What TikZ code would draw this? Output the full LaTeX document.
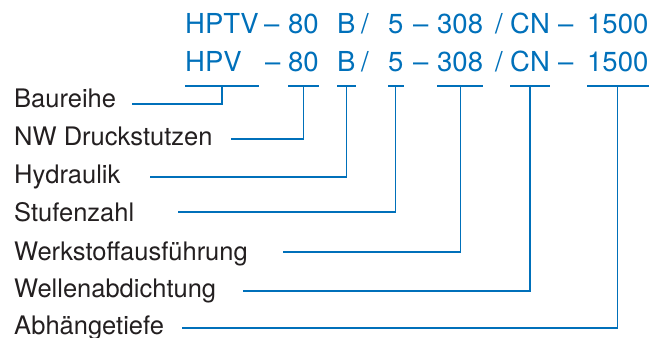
\documentclass[tikz,border=0pt]{standalone}
\usepackage{fontspec}
\setmainfont{TeX Gyre Heros}
\usetikzlibrary{positioning}
\definecolor{codeblue}{RGB}{0,112,186}
\definecolor{termgray}{RGB}{35,31,32}

\begin{document}
\begin{tikzpicture}[
  x=1bp, y=-1bp,
  code/.style={anchor=base west, inner sep=0pt, text=codeblue,
    font=\fontsize{27.5bp}{32bp}\selectfont},
  term/.style={anchor=base west, inner sep=0pt, text=termgray,
    font=\fontsize{25.5bp}{30bp}\selectfont},
  lead/.style={draw=codeblue, line width=1.2bp}
]
\useasboundingbox (0,0) rectangle (662,337);

% Type code, upper line
\node[code] (hptv) at (185,33) {HPTV};
\node[code] (dasha) at (264,33) {--};
\node[code] (nw) at (288,33) {80};
\node[code] (hyd) at (337,33) {B};
\node[code] (slasha) at (361,33) {/};
\node[code] (stg) at (388,33) {5};
\node[code] (dashb) at (413,33) {--};
\node[code] (mat) at (437,33) {308};
\node[code] (slashb) at (495,33) {/};
\node[code] (seal) at (510,33) {CN};
\node[code] (dashc) at (558,33) {--};
\node[code] (depth) at (587,33) {1500};

% Type code, lower line
\node[code] (hpv) at (185,71) {HPV};
\node[code] (dashd) at (265,71) {--};
\node[code] (nwb) at (288,71) {80};
\node[code] (hydb) at (337,71) {B};
\node[code] (slashc) at (361,71) {/};
\node[code] (stgb) at (388,71) {5};
\node[code] (dashe) at (413,71) {--};
\node[code] (matb) at (437,71) {308};
\node[code] (slashd) at (495,71) {/};
\node[code] (sealb) at (510,71) {CN};
\node[code] (dashf) at (558,71) {--};
\node[code] (depthb) at (587,71) {1500};

% Bars under the code groups
\coordinate (bar) at (0,86);
\draw[lead] (hptv.west |- bar) -- (hptv.east |- bar);
\draw[lead] (nw.west |- bar) -- (nw.east |- bar);
\draw[lead] (hyd.west |- bar) -- (hyd.east |- bar);
\draw[lead] (stg.west |- bar) -- (stg.east |- bar);
\draw[lead] (mat.west |- bar) -- (mat.east |- bar);
\draw[lead] (seal.west |- bar) -- (seal.east |- bar);
\draw[lead] (depth.west |- bar) -- (depth.east |- bar);

% Terms
\node[term] (baureihe) at (14,107) {Baureihe};
\node[term] (druck) at (14,145) {NW Druckstutzen};
\node[term] (hydraulik) at (14,183) {Hydraulik};
\node[term] (stufen) at (14,221) {Stufenzahl};
\node[term] (werkstoff) at (14,260) {Werkstoffausführung};
\node[term] (wellen) at (14,297) {Wellenabdichtung};
\node[term] (abhaenge) at (14,334) {Abhängetiefe};

% Leader starts
\coordinate (baureihe-e) at (132,104);
\coordinate (druck-e) at (231,139);
\coordinate (hydraulik-e) at (150,177);
\coordinate (stufen-e) at (178,212);
\coordinate (werkstoff-e) at (283,252);
\coordinate (wellen-e) at (243,291);
\coordinate (abhaenge-e) at (182,328);

% Leaders
\draw[lead] (baureihe-e) -| (hptv |- bar);
\draw[lead] (druck-e) -| (nw |- bar);
\draw[lead] (hydraulik-e) -| (hyd |- bar);
\draw[lead] (stufen-e) -| (stg |- bar);
\draw[lead] (werkstoff-e) -| (mat |- bar);
\draw[lead] (wellen-e) -| (seal |- bar);
\draw[lead] (abhaenge-e) -| (depth |- bar);

\end{tikzpicture}
\end{document}
